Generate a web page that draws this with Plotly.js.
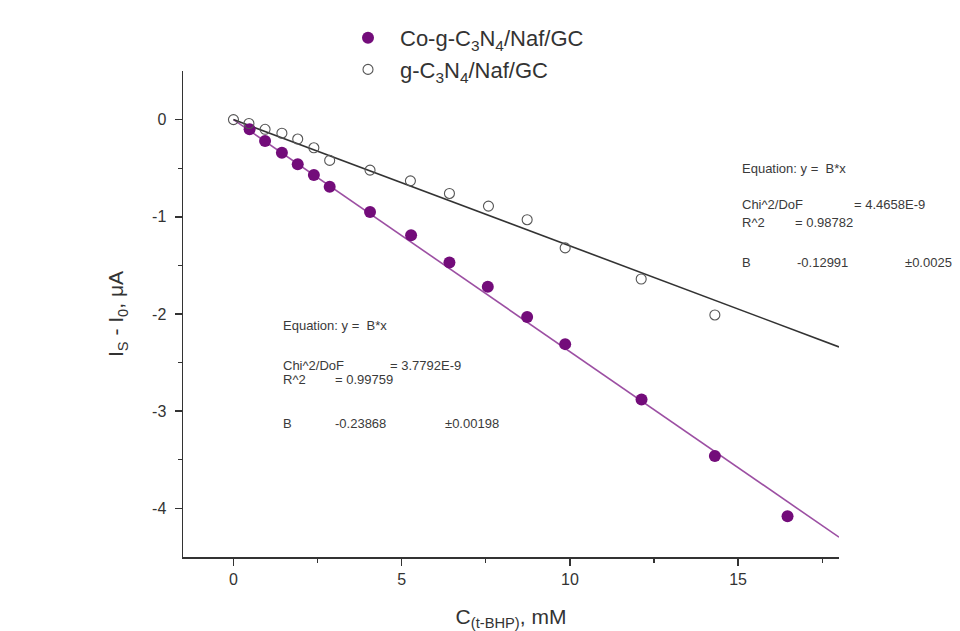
<!DOCTYPE html>
<html>
<head>
<meta charset="utf-8">
<script src="https://cdn.plot.ly/plotly-3.0.1.min.js"></script>
<style>html,body{margin:0;padding:0;background:#fff;}#chart{width:960px;height:631px;}</style>
</head>
<body>
<div id="chart"></div>
<script>
// concentration of t-BHP, mM
const coX = [0.48, 0.94, 1.44, 1.91, 2.39, 2.86, 4.06, 5.28, 6.42, 7.56, 8.73, 9.86, 12.13, 14.31, 16.47];
const coY = [-0.10, -0.22, -0.34, -0.46, -0.57, -0.69, -0.95, -1.19, -1.47, -1.72, -2.03, -2.31, -2.88, -3.46, -4.08];
const gX = [0, 0.46, 0.94, 1.44, 1.91, 2.39, 2.86, 4.06, 5.26, 6.42, 7.58, 8.73, 9.86, 12.12, 14.31];
const gY = [0, -0.04, -0.10, -0.14, -0.20, -0.29, -0.42, -0.52, -0.63, -0.76, -0.89, -1.03, -1.32, -1.64, -2.01];
// fitted slopes (y = B*x)
const coB = -0.23868;
const gB = -0.12991;
const fitX = [0, 18];
const coFitY = fitX.map(x => coB * x);
const gFitY = fitX.map(x => gB * x);

const xTicks = [0, 5, 10, 15];
const yTicks = [0, -1, -2, -3, -4];

const FONT = '"Liberation Sans", Arial, sans-serif';

const traces = [
  {x: fitX, y: coFitY, mode: 'lines', line: {color: '#9c4fa3', width: 1.6}, showlegend: false, hoverinfo: 'skip'},
  {x: fitX, y: gFitY, mode: 'lines', line: {color: '#333333', width: 1.6}, showlegend: false, hoverinfo: 'skip'},
  {x: coX, y: coY, mode: 'markers', name: 'Co-g-C<sub>3</sub>N<sub>4</sub>/Naf/GC', legendgroup: 'a',
   marker: {symbol: 'circle', size: 12, color: '#730c7a', line: {width: 0}}},
  {x: gX, y: gY, mode: 'markers', name: 'g-C<sub>3</sub>N<sub>4</sub>/Naf/GC', legendgroup: 'b',
   marker: {symbol: 'circle-open', size: 10, color: '#555555', line: {width: 1.1, color: '#555555'}}}
];

function ann(x, y, text) {
  return {x: x, y: y, xref: 'paper', yref: 'paper', xanchor: 'left', yanchor: 'middle',
    text: text, showarrow: false, font: {family: FONT, size: 13, color: '#3a3a3a'}};
}
// convert pixel positions to paper coords
const L = 183, R = 839, T = 71, B = 557;
const px = v => (v - L) / (R - L);
const py = v => (B - v) / (B - T);

const annotations = [
  ann(px(740), py(168), 'Equation: y =  B*x'),
  ann(px(740), py(205), 'Chi^2/DoF'),
  ann(px(852), py(205), '= 4.4658E-9'),
  ann(px(740), py(222), 'R^2'),
  ann(px(793), py(222), '= 0.98782'),
  ann(px(740), py(262), 'B'),
  ann(px(795), py(262), '-0.12991'),
  ann(px(903), py(262), '±0.0025'),
  ann(px(281), py(325), 'Equation: y =  B*x'),
  ann(px(281), py(365), 'Chi^2/DoF'),
  ann(px(388), py(365), '= 3.7792E-9'),
  ann(px(281), py(380), 'R^2'),
  ann(px(333), py(380), '= 0.99759'),
  ann(px(281), py(423), 'B'),
  ann(px(333), py(423), '-0.23868'),
  ann(px(443), py(423), '±0.00198')
];

const layout = {
  width: 960, height: 631,
  margin: {l: L, r: 960 - R, t: T, b: 631 - B},
  paper_bgcolor: '#ffffff', plot_bgcolor: '#ffffff',
  font: {family: FONT, color: '#333333'},
  showlegend: true,
  legend: {x: px(336), y: py(17), xanchor: 'left', yanchor: 'top', bgcolor: 'rgba(0,0,0,0)',
    font: {family: FONT, size: 22, color: '#333333'}, itemwidth: 54, tracegroupgap: 0, traceorder: 'grouped'},
  xaxis: {
    range: [-1.5, 18], showgrid: false, zeroline: false,
    showline: true, linecolor: '#333333', linewidth: 1.5,
    ticks: 'outside', ticklen: 7, tickwidth: 1.5, tickcolor: '#333333',
    tickvals: xTicks, ticktext: xTicks.map(String),
    tickfont: {family: FONT, size: 16, color: '#333333'},
    minor: {tickvals: [2.5, 7.5, 12.5, 17.5], ticks: 'outside', ticklen: 4, tickwidth: 1.3, tickcolor: '#333333', showgrid: false},
    title: {text: 'C<sub>(t-BHP)</sub>, mM', font: {family: FONT, size: 21, color: '#333333'}, standoff: 22}
  },
  yaxis: {
    range: [-4.5, 0.5], showgrid: false, zeroline: false,
    showline: true, linecolor: '#333333', linewidth: 1.5,
    ticks: 'outside', ticklen: 7, tickwidth: 1.5, tickcolor: '#333333',
    tickvals: yTicks, ticktext: yTicks.map(String),
    tickfont: {family: FONT, size: 16, color: '#333333'},
    ticklabelstandoff: 5,
    minor: {tickvals: [-0.5, -1.5, -2.5, -3.5], ticks: 'outside', ticklen: 4, tickwidth: 1.3, tickcolor: '#333333', showgrid: false},
    title: {text: 'I<sub>S</sub> - I<sub>0</sub>, μA', font: {family: FONT, size: 21, color: '#333333'}, standoff: 22}
  },
  annotations: annotations
};

Plotly.newPlot('chart', traces, layout, {displayModeBar: false, staticPlot: true});
</script>
</body>
</html>
